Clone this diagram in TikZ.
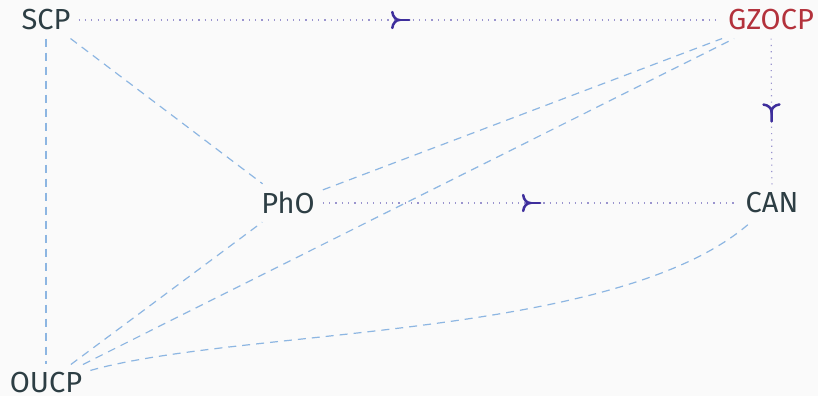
\documentclass[tikz,border=0pt]{standalone}
\usepackage{fontspec}
\setmainfont{Fira Sans}
\usetikzlibrary{decorations.markings}
\definecolor{bg}{HTML}{FAFAFA}
\definecolor{txt}{HTML}{2D3E44}
\definecolor{hot}{HTML}{B3323C}
\definecolor{dotc}{HTML}{9A94CE}
\definecolor{arrc}{HTML}{3E2E9C}
\definecolor{dashc}{HTML}{8DB6E2}
\tikzset{
  lbl/.style={font=\fontsize{29}{31}\selectfont, text=txt, inner sep=8pt},
  dotline/.style={draw=dotc, line width=1.2pt, dash pattern=on 1.2pt off 5.1pt},
  dashline/.style={draw=dashc, line width=1.2pt, dash pattern=on 8pt off 6pt},
  midarr/.style={postaction={decorate}, decoration={markings, mark=at position #1 with {
     \draw[arrc, line width=2.5pt, line cap=round, solid] (-7,-8) .. controls (-6.5,-3) and (-3,0) .. (0,0) .. controls (-3,0) and (-6.5,3) .. (-7,8);
     \draw[arrc, line width=2.5pt, line cap=round, solid] (0,0) -- (10,0);}}}
}
\begin{document}
\begin{tikzpicture}[x=1pt,y=-1pt]
\fill[bg] (0,0) rectangle (818,396);
\useasboundingbox (0,0) rectangle (818,396);
\node[lbl] (SCP) at (46,20) {SCP};
\node[lbl, text=hot] (GZOCP) at (771,20) {GZOCP};
\node[lbl] (PhO) at (288,203) {PhO};
\node[lbl] (CAN) at (772,203) {CAN};
\node[lbl] (OUCP) at (46,383) {OUCP};

\draw[dashline] (SCP) -- (OUCP);
\draw[dashline] (SCP) -- (PhO);
\draw[dashline] (PhO) -- (GZOCP);
\draw[dashline] (OUCP) -- (GZOCP);
\draw[dashline] (OUCP) -- (PhO);
\draw[dashline] (OUCP) .. controls (240,328) and (620,340) .. (CAN);

\draw[dotline, midarr=0.5] (SCP) -- (GZOCP);
\draw[dotline, midarr=0.5] (GZOCP) -- (CAN);
\draw[dotline, midarr=0.5] (PhO) -- (CAN);
\end{tikzpicture}
\end{document}
